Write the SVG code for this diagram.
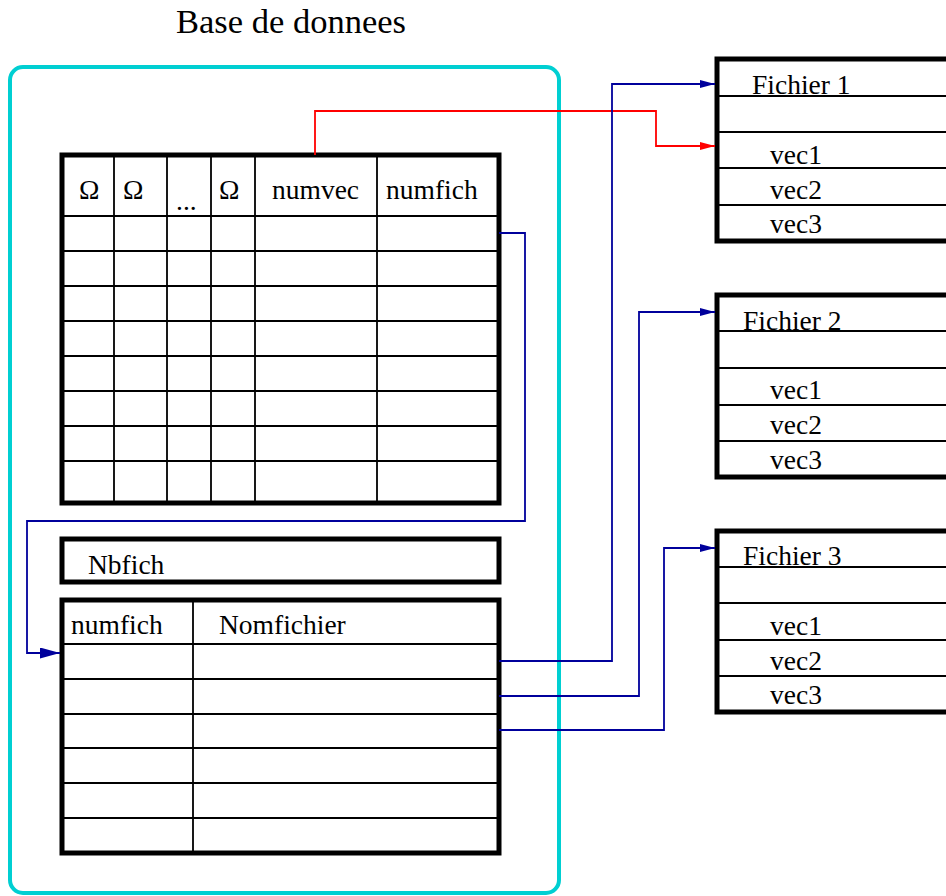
<svg xmlns="http://www.w3.org/2000/svg" width="946" height="896" viewBox="0 0 946 896">
<style>
text{font-family:'Liberation Serif','DejaVu Serif',serif;font-size:27.5px;fill:#000}
.title{font-size:34.5px}
.box{fill:#fff;stroke:#000;stroke-width:5}
.grid{stroke:#000;stroke-width:1.8;fill:none}
.blue{stroke:#00009c;stroke-width:1.8;fill:none}
.red{stroke:#ff0000;stroke-width:1.8;fill:none}
</style>
<defs>
<marker id="ab" markerWidth="20" markerHeight="11" refX="20" refY="5.5" orient="auto" markerUnits="userSpaceOnUse"><path d="M0,0 L20,5.5 L0,11 Z" fill="#00009c"/></marker>
<marker id="abs" markerWidth="15" markerHeight="8" refX="15" refY="4" orient="auto" markerUnits="userSpaceOnUse"><path d="M0,0 L15,4 L0,8 Z" fill="#00009c"/></marker>
<marker id="ars" markerWidth="15" markerHeight="8" refX="15" refY="4" orient="auto" markerUnits="userSpaceOnUse"><path d="M0,0 L15,4 L0,8 Z" fill="#ff0000"/></marker>
</defs>
<rect width="946" height="896" fill="#fff"/>
<g id="title"><text class="title" x="176" y="33">Base de donnees</text></g>
<g id="database">
<rect x="10" y="67" width="549" height="826" rx="13" fill="none" stroke="#00cfd2" stroke-width="4"/>
</g>
<g id="table-main">
<rect class="box" x="62" y="155" width="437" height="348"/>
<path class="grid" d="M62,216H499M62,251H499M62,286H499M62,321H499M62,356H499M62,391H499M62,426H499M62,461H499M114,155V503M167,155V503M211,155V503M255,155V503M377,155V503"/>
<text x="79" y="199">Ω</text>
<text x="123" y="199">Ω</text>
<text x="176" y="210">...</text>
<text x="219" y="199">Ω</text>
<text x="272" y="199">numvec</text>
<text x="386" y="199">numfich</text>
</g>
<g id="nbfich">
<rect class="box" x="62" y="539" width="437" height="43"/>
<text x="88" y="574">Nbfich</text>
</g>
<g id="table-files">
<rect class="box" x="62" y="600" width="437" height="253"/>
<path class="grid" d="M62,644H499M62,679H499M62,714H499M62,748H499M62,783H499M62,818H499M193,600V853"/>
<text x="71" y="634">numfich</text>
<text x="219" y="634">Nomfichier</text>
</g>
<g id="fichier1">
<rect class="box" x="717" y="59" width="240" height="182"/>
<path class="grid" d="M717,96H946M717,132H946M717,168H946M717,205H946"/>
<text x="752" y="94">Fichier 1</text>
<text x="770" y="164">vec1</text>
<text x="770" y="199">vec2</text>
<text x="770" y="233">vec3</text>
</g>
<g id="fichier2">
<rect class="box" x="717" y="295" width="240" height="182"/>
<path class="grid" d="M717,331H946M717,368H946M717,405H946M717,441H946"/>
<text x="743" y="330">Fichier 2</text>
<text x="770" y="399">vec1</text>
<text x="770" y="434">vec2</text>
<text x="770" y="469">vec3</text>
</g>
<g id="fichier3">
<rect class="box" x="717" y="531" width="240" height="181"/>
<path class="grid" d="M717,567H946M717,603H946M717,640H946M717,676H946"/>
<text x="743" y="565">Fichier 3</text>
<text x="770" y="635">vec1</text>
<text x="770" y="670">vec2</text>
<text x="770" y="704">vec3</text>
</g>
<g id="connectors">
<path class="red" d="M315,155V111H656V146H715" marker-end="url(#ars)"/>
<path class="blue" d="M499,233H525V521H27V653H60" marker-end="url(#ab)"/>
<path class="blue" d="M499,661H612V84H715" marker-end="url(#abs)"/>
<path class="blue" d="M499,696H639V312H715" marker-end="url(#abs)"/>
<path class="blue" d="M499,730H664V548H715" marker-end="url(#abs)"/>
</g>
</svg>
